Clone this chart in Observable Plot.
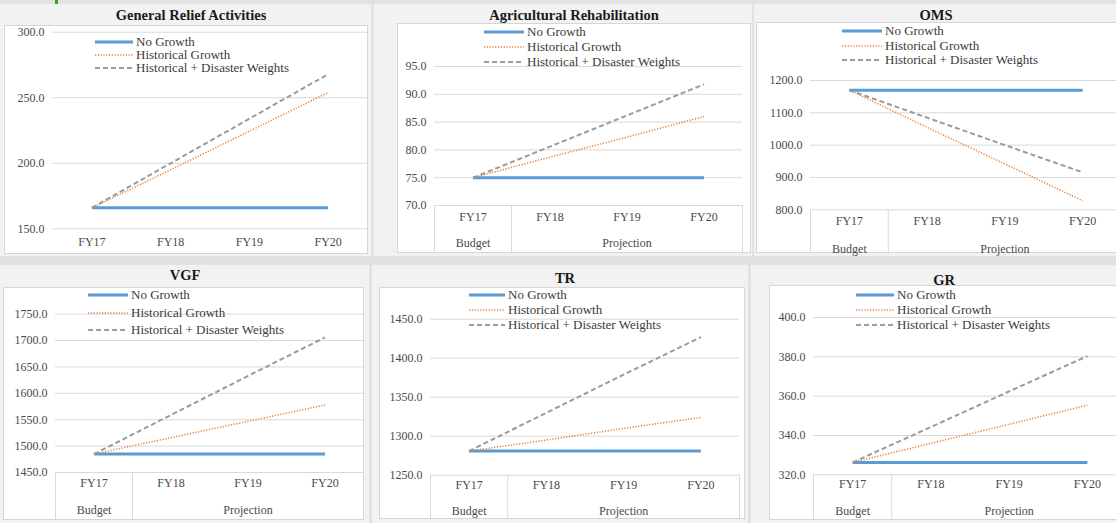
<!DOCTYPE html>
<html>
<head>
<meta charset="utf-8">
<script src="https://cdn.jsdelivr.net/npm/d3@7"></script>
<script src="https://cdn.jsdelivr.net/npm/@observablehq/plot@0.6"></script>
<style>
  html, body { margin: 0; padding: 0; }
  body {
    width: 1116px; height: 523px; overflow: hidden; position: relative;
    background: #e2e2e2;
    font-family: "Liberation Serif", serif;
  }
  .area { position: absolute; background: #f2f2f2; }
  .box { position: absolute; background: #ffffff; border: 1px solid #d6d6d6; box-sizing: border-box; }
  .box svg { position: absolute; left: -1px; top: -1px; max-width: none; background: transparent; }
  .title {
    position: absolute; transform: translate(-50%, -50%); white-space: nowrap;
    font-family: "Liberation Serif", serif;
    font-weight: bold; font-size: 14.5px; color: #1a1a1a;
  }
  .legend-row {
    position: absolute; display: flex; align-items: center; white-space: nowrap;
    font-family: "Liberation Serif", serif;
    font-size: 13px; color: #3a3a3a; height: 14px; line-height: 14px;
  }
  .legend-row svg { display: block; margin-right: 3px; }
  .accent { position: absolute; left: 55px; top: 0; width: 3px; height: 9px; background: #4f9a2c; }
</style>
</head>
<body>
<div class="accent"></div>
<script>
// Fiscal years on the category axis and the budget phase each belongs to
const years = ["FY17", "FY18", "FY19", "FY20"];
const yearPhase = ["Budget", "Projection", "Projection", "Projection"];
const seriesNames = ["No Growth", "Historical Growth", "Historical + Disaster Weights"];
const panelTitles = ["General Relief Activities", "Agricultural Rehabilitation", "OMS", "VGF", "TR", "GR"];

// General Relief Activities
const reliefNoGrowth   = [166, 166, 166, 166];
const reliefHistorical = [166, 195, 224.5, 254];
const reliefDisaster   = [166, 200, 234, 268];
const reliefTicks      = [150, 200, 250, 300];

// Agricultural Rehabilitation
const agriNoGrowth   = [75, 75, 75, 75];
const agriHistorical = [75, 78.7, 82.3, 86];
const agriDisaster   = [75, 80.6, 86.2, 91.8];
const agriTicks      = [70, 75, 80, 85, 90, 95];

// OMS
const omsNoGrowth   = [1170, 1170, 1170, 1170];
const omsHistorical = [1170, 1055, 942, 828];
const omsDisaster   = [1170, 1085, 1000, 916];
const omsTicks      = [800, 900, 1000, 1100, 1200];

// VGF
const vgfNoGrowth   = [1485, 1485, 1485, 1485];
const vgfHistorical = [1485, 1516, 1547, 1578];
const vgfDisaster   = [1485, 1559, 1633, 1706];
const vgfTicks      = [1450, 1500, 1550, 1600, 1650, 1700, 1750];

// TR
const trNoGrowth   = [1281, 1281, 1281, 1281];
const trHistorical = [1281, 1295, 1310, 1324];
const trDisaster   = [1281, 1330, 1379, 1427];
const trTicks      = [1250, 1300, 1350, 1400, 1450];

// GR
const grNoGrowth   = [326.3, 326.3, 326.3, 326.3];
const grHistorical = [326.3, 336, 345.7, 355.4];
const grDisaster   = [326.3, 344.3, 362.4, 380.4];
const grTicks      = [320, 340, 360, 380, 400];

const panelSeries = [
  [reliefNoGrowth, reliefHistorical, reliefDisaster],
  [agriNoGrowth, agriHistorical, agriDisaster],
  [omsNoGrowth, omsHistorical, omsDisaster],
  [vgfNoGrowth, vgfHistorical, vgfDisaster],
  [trNoGrowth, trHistorical, trDisaster],
  [grNoGrowth, grHistorical, grDisaster]
];
const panelTicks = [reliefTicks, agriTicks, omsTicks, vgfTicks, trTicks, grTicks];

// Line look for each series
const seriesStyle = [
  {stroke: "#5b9bd5", strokeWidth: 3, strokeLinecap: "butt"},
  {stroke: "#ed7d31", strokeWidth: 1.5, strokeDasharray: "1.2 1.6", strokeLinecap: "butt"},
  {stroke: "#9b9b9b", strokeWidth: 2, strokeDasharray: "5 3", strokeLinecap: "butt"}
];

// Page layout of each panel: outer area, white box, plot frame, title and legend placement
const layout = [
  {area: [0, 4, 371, 252],   box: [4, 25, 364, 229],   frame: [52, 367, 31.7, 228.3], title: [191, 15],  legend: [95, 42, 13, 38],  fyPad: 9,  phasePad: 0},
  {area: [374, 4, 378, 252], box: [397, 23, 354, 230], frame: [434, 742, 66, 205],    title: [574, 15],  legend: [484, 32, 15, 40], fyPad: 7,  phasePad: 38},
  {area: [754, 4, 362, 252], box: [756, 22, 380, 231], frame: [810, 1121, 80, 209.3], title: [936, 15],  legend: [842, 31, 14.5, 40], fyPad: 7, phasePad: 39},
  {area: [0, 265, 369, 258], box: [3, 287, 361, 233],  frame: [55, 363, 313.7, 472],  title: [185, 275], legend: [88, 295, 17.5, 40], fyPad: 6, phasePad: 38},
  {area: [372, 265, 376, 258], box: [379, 287, 366, 232], frame: [430, 739, 318.7, 474.7], title: [565, 278], legend: [469, 295, 15, 36], fyPad: 5, phasePad: 35.5},
  {area: [751, 265, 365, 258], box: [769, 285, 370, 235], frame: [813, 1126, 317, 474.3], title: [944, 280], legend: [856, 295, 15, 38], fyPad: 5, phasePad: 36}
];

const serif = "Liberation Serif, serif";
const fmt = d3.format(".1f");
const phaseGroups = d3.groups(years.map((y, i) => ({i, phase: yearPhase[i]})), d => d.phase)
  .map(([phase, items]) => ({phase, first: d3.min(items, d => d.i), last: d3.max(items, d => d.i)}));

function el(tag, cls, parent) {
  const e = document.createElement(tag);
  if (cls) e.className = cls;
  (parent || document.body).appendChild(e);
  return e;
}

layout.forEach((L, p) => {
  const [ax, ay, aw, ah] = L.area;
  const area = el("div", "area");
  Object.assign(area.style, {left: ax + "px", top: ay + "px", width: aw + "px", height: ah + "px"});

  const [bx, by, bw, bh] = L.box;
  const box = el("div", "box");
  Object.assign(box.style, {left: bx + "px", top: by + "px", width: bw + "px", height: bh + "px"});

  const [fl, fr, ft, fb] = L.frame;
  const ticks = panelTicks[p];
  const series = panelSeries[p];
  const rows = series.flatMap((vals, k) => vals.map((v, i) => ({i, year: years[i], series: seriesNames[k], value: v})));
  const yMin = d3.min(ticks);
  const depth = (by + bh) - fb;

  const textStyle = {fontFamily: serif, fontSize: 12, fill: "#4a4a4a"};
  const marks = [
    Plot.gridY(ticks, {stroke: "#d9d9d9", strokeOpacity: 1, strokeWidth: 1}),
    Plot.axisY(ticks, {label: null, tickSize: 0, tickPadding: 8, tickFormat: fmt, ...textStyle}),
    Plot.axisX(years.map((_, i) => i), {label: null, tickSize: 0, tickPadding: L.fyPad, tickFormat: i => years[i], ...textStyle})
  ];

  if (L.phasePad) {
    // boxed category axis: edges of each phase group
    const edges = Array.from(new Set(phaseGroups.flatMap(g => [g.first - 0.5, g.last + 0.5])));
    marks.push(
      Plot.ruleX(edges, {x: d => d, y1: yMin, y2: yMin, insetBottom: -depth, stroke: "#d9d9d9", strokeWidth: 1}),
      Plot.text(phaseGroups, {x: d => (d.first + d.last) / 2, text: "phase", frameAnchor: "bottom", dy: L.phasePad, lineAnchor: "middle", ...textStyle})
    );
  }

  seriesNames.forEach((name, k) => {
    marks.push(Plot.line(rows.filter(d => d.series === name), {x: "i", y: "value", ...seriesStyle[k]}));
  });

  const chart = Plot.plot({
    width: bw, height: bh,
    marginLeft: fl - bx, marginRight: (bx + bw) - fr,
    marginTop: ft - by, marginBottom: depth,
    x: {type: "linear", domain: [-0.5, years.length - 0.5], axis: null},
    y: {domain: [yMin, d3.max(ticks)], axis: null},
    style: {fontFamily: serif, fontSize: "12px", background: "transparent", overflow: "visible", maxWidth: "none"},
    marks
  });
  box.appendChild(chart);

  const title = el("div", "title");
  title.textContent = panelTitles[p];
  Object.assign(title.style, {left: L.title[0] + "px", top: L.title[1] + "px"});

  const [lx, ly, gap, len] = L.legend;
  seriesNames.forEach((name, k) => {
    const row = el("div", "legend-row");
    Object.assign(row.style, {left: lx + "px", top: (ly + k * gap - 7) + "px"});
    const s = seriesStyle[k];
    row.innerHTML = `<svg width="${len}" height="6"><line x1="0" x2="${len}" y1="3" y2="3" stroke="${s.stroke}" stroke-width="${s.strokeWidth}" ${s.strokeDasharray ? `stroke-dasharray="${s.strokeDasharray}"` : ""}/></svg>`;
    const label = el("span", null, row);
    label.textContent = name;
  });
});
</script>
</body>
</html>
